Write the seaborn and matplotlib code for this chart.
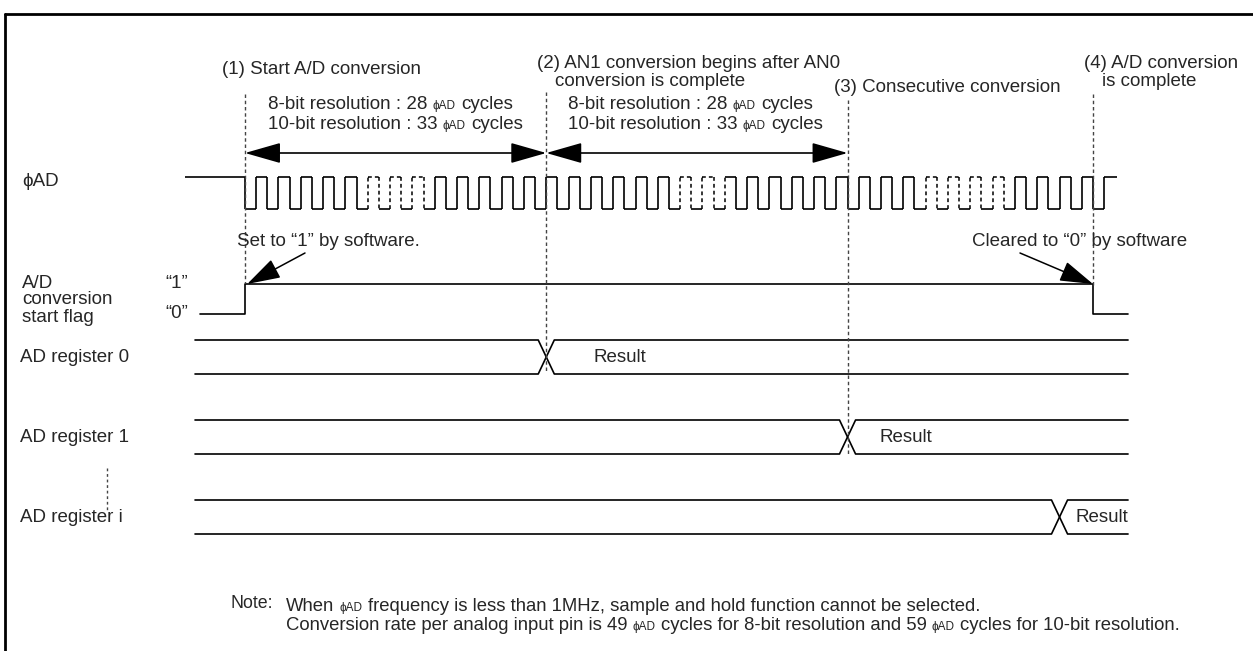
import numpy as np
import pandas as pd
import matplotlib.pyplot as plt
import seaborn as sns

sns.set_theme(style='white')
plt.rcParams['font.family'] = ['Liberation Sans', 'DejaVu Sans']

# timing data, in phiAD clock cycles from the start of conversion
event_t = [0, 13.5, 27, 38]
event_text = [['(1) Start A/D conversion'],
              ['(2) AN1 conversion begins after AN0', 'conversion is complete'],
              ['(3) Consecutive conversion'],
              ['(4) A/D conversion', 'is complete']]
clock_pre_t = -2.7
clock_end_t = 39.07
clock_half = 0.5
dashed_spans = [(5.5, 8.0), (19.5, 21.5), (30.5, 34.0)]
flag_t = [-2.02, 0, 38, 39.57]
reg_names = ['AD register 0', 'AD register 1', 'AD register i']
reg_switch_t = [13.5, 27, 36.5]
result_t = [15.6, 28.45, 37.2]
bus_t = [-2.24, 39.57]
res_bits = ['8-bit', '10-bit']
res_cycles = [28, 33]
note_lines = [['When ', 'ϕAD', ' frequency is less than 1MHz, sample and hold function cannot be selected.'],
              ['Conversion rate per analog input pin is 49 ', 'ϕAD', ' cycles for 8-bit resolution and 59 ',
               'ϕAD', ' cycles for 10-bit resolution.']]

# layout (pixels)
W, H = 1253, 651
PX0, PXC = 245, 22.316
CLK_HI, CLK_LO = 177, 209
FLAG_HI, FLAG_LO = 284, 314
reg_y = [357, 437, 517]
BUS_H = 17
XW = 0.36
FS = 13.5
FS_NOTE = 13.3
FS_SMALL = 8.5

fig = plt.figure(figsize=(W / 100, H / 100), dpi=100)
ax = fig.add_axes([0, 0, 1, 1])
lay = fig.add_axes([0, 0, 1, 1], label='layout')
ax.set_xlim(-PX0 / PXC, (W - PX0) / PXC)
ax.set_ylim(H, 0)
lay.set_xlim(0, W)
lay.set_ylim(H, 0)
for a in (ax, lay):
    a.axis('off')
lay.patch.set_visible(False)

# frame
lay.plot([5, W], [14, 14], color='black', lw=2)
lay.plot([5, 5], [14, H], color='black', lw=2)

# phiAD clock
def in_dash(t):
    return any(a - 1e-6 <= t <= b + 1e-6 for a, b in dashed_spans)

edges = np.arange(0, event_t[3] + clock_half + 1e-9, clock_half)
sx, sy, dx, dy = [clock_pre_t, 0, np.nan], [CLK_HI, CLK_HI, np.nan], [], []
for k, t in enumerate(edges):
    y0, y1 = (CLK_HI, CLK_LO) if k % 2 == 0 else (CLK_LO, CLK_HI)
    t_next = edges[k + 1] if k + 1 < len(edges) else clock_end_t
    tx, ty = (dx, dy) if in_dash(t) else (sx, sy)
    tx += [t, t, np.nan]
    ty += [y0, y1, np.nan]
    dash_h = y1 == CLK_HI and in_dash(t) and in_dash(t_next)
    tx, ty = (dx, dy) if dash_h else (sx, sy)
    tx += [t, t_next, np.nan]
    ty += [y1, y1, np.nan]
ax.plot(sx, sy, color='black', lw=1.2, solid_capstyle='butt')
ax.plot(dx, dy, color='black', lw=1.1, ls=(0, (2.5, 2)))

# conversion start flag
flag = pd.DataFrame({'t': [flag_t[0], flag_t[1], flag_t[1], flag_t[2], flag_t[2], flag_t[3]],
                     'y': [FLAG_LO, FLAG_LO, FLAG_HI, FLAG_HI, FLAG_LO, FLAG_LO]})
sns.lineplot(data=flag, x='t', y='y', sort=False, estimator=None, color='black', lw=1.2, ax=ax)

# AD registers
for name, sw, rt, yc in zip(reg_names, reg_switch_t, result_t, reg_y):
    top, bot = yc - BUS_H, yc + BUS_H
    for a, b in ((top, bot), (bot, top)):
        bus = pd.DataFrame({'t': [bus_t[0], sw - XW, sw + XW, bus_t[1]], 'y': [a, a, b, b]})
        sns.lineplot(data=bus, x='t', y='y', sort=False, estimator=None, color='black', lw=1.2, ax=ax)
    lay.text(20, yc, name, fontsize=FS, va='center')
    ax.text(rt, yc, 'Result', fontsize=FS, va='center')
lay.plot([107, 107], [468, 510], color='#444444', lw=1, ls=(0, (2, 2)))

# event markers
event_top = [94, 92, 100, 94]
event_bottom = [283, 372, 455, 285]
for t, yt, yb in zip(event_t, event_top, event_bottom):
    ax.plot([t, t], [yt, yb], color='#444444', lw=1, ls=(0, (2.5, 2)))
head_pos = [(222, 70), (537, 63), (834, 88), (1084, 63)]
for lines, (x, y) in zip(event_text, head_pos):
    lay.text(x, y, lines[0], fontsize=FS, va='center')
    if len(lines) > 1:
        lay.text(x + 18, y + 19, lines[1], fontsize=FS, va='center')
for t0, t1 in zip(event_t[:2], event_t[1:3]):
    ax.annotate('', xy=(t0, 153), xytext=(t1, 153),
                arrowprops=dict(arrowstyle='<|-|>,head_length=1.4,head_width=0.4',
                                mutation_scale=16, lw=1.2, color='black',
                                shrinkA=0, shrinkB=0))

# text with a small phiAD inside
renderer = fig.canvas.get_renderer()

def runs(x, y, parts, base=FS):
    for s in parts:
        size = FS_SMALL if s == 'ϕAD' else base
        lead = len(s) - len(s.lstrip(' '))
        x += lead * 0.278 * size * 100 / 72
        t = lay.text(x, y, s.strip(' '), fontsize=size, va='baseline')
        x += t.get_window_extent(renderer).width
        trail = len(s) - len(s.rstrip(' '))
        x += trail * 0.278 * size * 100 / 72

for x0 in (268, 568):
    for bits, cyc, y in zip(res_bits, res_cycles, (109, 129)):
        runs(x0, y, [f'{bits} resolution : {cyc} ', 'ϕAD', ' cycles'])

# signal labels
lay.text(22, 182, 'ϕAD', fontsize=FS, va='center')
for s, y in zip(['A/D', 'conversion', 'start flag'], (283, 300, 318)):
    lay.text(22, y, s, fontsize=FS, va='center')
lay.text(165, 283, '“1”', fontsize=FS, va='center')
lay.text(165, 314, '“0”', fontsize=FS, va='center')
lay.text(237, 241, 'Set to “1” by software.', fontsize=FS, va='center')
lay.text(972, 241, 'Cleared to “0” by software', fontsize=FS, va='center')
ax.annotate('', xy=(flag_t[1] + 0.1, FLAG_HI), xytext=(305, 253), textcoords=lay.transData,
            arrowprops=dict(arrowstyle='-|>,head_length=1.3,head_width=0.4', mutation_scale=16,
                            lw=1.1, color='black', shrinkA=0, shrinkB=0))
ax.annotate('', xy=(flag_t[2], FLAG_HI), xytext=(1020, 253), textcoords=lay.transData,
            arrowprops=dict(arrowstyle='-|>,head_length=1.3,head_width=0.4', mutation_scale=16,
                            lw=1.1, color='black', shrinkA=0, shrinkB=0))

# note
lay.text(230, 608, 'Note:', fontsize=FS_NOTE - 0.5, va='baseline')
for parts, y in zip(note_lines, (611, 630)):
    runs(286, y, parts, base=FS_NOTE)

fig.savefig('out.png', dpi=100)
